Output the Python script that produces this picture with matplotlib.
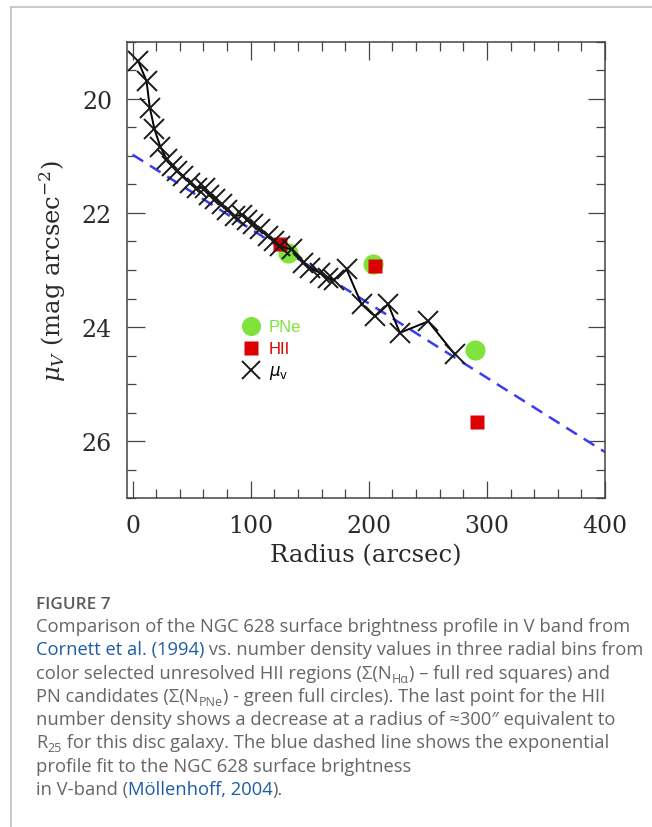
import matplotlib
matplotlib.use("Agg")
import matplotlib.pyplot as plt
from matplotlib.lines import Line2D
from matplotlib.ticker import MultipleLocator

# ---------------- data ----------------
mu_r = [4.7, 11.8, 14.6, 18.5, 23.5, 28.8, 33.0, 37.3, 42.8, 48.5, 54.2, 61.2, 64.5,
        69.7, 75.4, 79.6, 86.6, 92.3, 97.0, 102.1, 107.8, 114.8, 119.5, 124.7, 134.6,
        144.5, 150.1, 158.6, 165.6, 170.4, 181.2, 193.9, 205.2, 216.4, 226.3, 250.3, 272.9]
mu_v = [19.34, 19.69, 20.16, 20.53, 20.84, 21.06, 21.17, 21.27, 21.36, 21.47, 21.56, 21.56, 21.68,
        21.76, 21.85, 21.94, 22.06, 22.03, 22.12, 22.20, 22.29, 22.41, 22.50, 22.58, 22.64,
        22.87, 22.96, 23.05, 23.14, 23.17, 22.99, 23.60, 23.81, 23.60, 24.10, 23.90, 24.48]

pne_r = [131.8, 203.2, 289.8]
pne_mu = [22.70, 22.90, 24.40]

hii_r = [124.7, 205.2, 291.3]
hii_mu = [22.55, 22.93, 25.66]

fit_r = [0, 400]
fit_mu = [20.98, 26.19]

x_ticks = [0, 100, 200, 300, 400]
y_ticks = [20, 22, 24, 26]

W, H = 652, 828
fig = plt.figure(figsize=(W / 100, H / 100), dpi=100)

# outer frame (top and left border)
fig.add_artist(Line2D([10.5 / W, 10.5 / W], [0, 1 - 7.5 / H], transform=fig.transFigure,
                      color="#b9b9c6", lw=1.1))
fig.add_artist(Line2D([10.5 / W, 1], [1 - 7.5 / H, 1 - 7.5 / H], transform=fig.transFigure,
                      color="#b9b9c6", lw=1.1))

ax_l, ax_r, ax_t, ax_b = 126.7, 605.0, 42.7, 499.3
ax = fig.add_axes([ax_l / W, 1 - ax_b / H, (ax_r - ax_l) / W, (ax_b - ax_t) / H])

green = "#7fe33c"
red = "#dd0000"
blue = "#3a3cf2"

ax.plot(fit_r, fit_mu, color=blue, lw=1.8, dashes=(5, 3.2), zorder=2)
ax.plot(pne_r, pne_mu, "o", color=green, ms=14.5, mec="none", zorder=3, label="PNe")
ax.plot(hii_r, hii_mu, "s", color=red, ms=10.5, mec="none", zorder=4, label="HII")
ax.plot(mu_r, mu_v, color="black", lw=1.4, zorder=5)
ax.plot(mu_r, mu_v, "x", color="#1a1a1a", ms=14, mew=1.4, zorder=6, linestyle="none",
        label=r"$\mu_{\rm v}$")

ax.set_xlim(-5, 400)
ax.set_ylim(27.0, 19.0)
ax.set_xticks(x_ticks)
ax.set_yticks(y_ticks)
ax.xaxis.set_minor_locator(MultipleLocator(20))
ax.yaxis.set_minor_locator(MultipleLocator(0.5))

spine_col = "#444444"
for s in ax.spines.values():
    s.set_color(spine_col)
    s.set_linewidth(1.1)
ax.tick_params(which="both", direction="in", top=True, right=True, color=spine_col,
               width=0.9)
ax.tick_params(which="major", length=12.6, labelsize=17, labelcolor="#2a2a2a")
ax.tick_params(which="minor", length=6.3)
ax.tick_params(axis="x", which="major", pad=11)
ax.tick_params(axis="y", which="major", pad=10.5)
for lab in ax.get_xticklabels() + ax.get_yticklabels():
    lab.set_fontfamily("DejaVu Serif")

ax.set_xlabel("Radius (arcsec)", family="DejaVu Serif", fontsize=17.5, color="#2a2a2a",
              labelpad=5)
ax.set_ylabel(r"$\mu_V$ (mag arcsec$^{-2}$)", family="DejaVu Serif", fontsize=17.5,
              color="#2a2a2a", labelpad=10, math_fontfamily="dejavuserif")

leg = ax.legend(loc="upper left", bbox_to_anchor=(0.222, 0.41), frameon=False,
                prop={"family": "Liberation Sans", "size": 12}, labelcolor=[green, red, "black"],
                handlelength=1.2, handletextpad=0.45, labelspacing=0.42, borderpad=0,
                markerscale=0.95)
for t in leg.get_texts():
    t.set_math_fontfamily("dejavusans")

# ---------------- caption ----------------
grey = "#666666"
link = "#1d5ca6"
cap_family = ["Open Sans", "DejaVu Sans"]
cap_size = 13.2
x0 = 36 / W

fig.text(x0, 1 - 609 / H, "FIGURE 7", family=cap_family, fontsize=12.3, color="#5a5a5a",
         weight="semibold", va="baseline")

lines = [
    [("Comparison of the NGC 628 surface brightness profile in V band from", grey, "n")],
    [("Cornett et al. (1994)", link, "n"), (" vs. number density values in three radial bins from", grey, "n")],
    [("color selected unresolved HII regions (\u03a3(N", grey, "n"), ("H\u03b1", grey, "s"),
     (") \u2013 full red squares) and", grey, "n")],
    [("PN candidates (\u03a3(N", grey, "n"), ("PNe", grey, "s"),
     (") - green full circles). The last point for the HII", grey, "n")],
    [("number density shows a decrease at a radius of \u2248300\u2033 equivalent to", grey, "n")],
    [("R", grey, "n"), ("25", grey, "s"),
     (" for this disc galaxy. The blue dashed line shows the exponential", grey, "n")],
    [("profile fit to the NGC 628 surface brightness", grey, "n")],
    [("in V-band (", grey, "n"), ("M\u00f6llenhoff, 2004", link, "n"), (").", grey, "n")],
]
base_y0 = 632
dy = 23.3
renderer = fig.canvas.get_renderer()
for i, segs in enumerate(lines):
    xpx = 36.0
    ybase = base_y0 + i * dy
    for txt, col, kind in segs:
        if kind == "s":
            t = fig.text(xpx / W, 1 - (ybase + 4) / H, txt, family=cap_family,
                         fontsize=cap_size * 0.68, color=col, va="baseline")
        else:
            t = fig.text(xpx / W, 1 - ybase / H, txt, family=cap_family, fontsize=cap_size,
                         color=col, va="baseline")
        bb = t.get_window_extent(renderer)
        xpx += bb.width

fig.savefig("out.png", dpi=100)
